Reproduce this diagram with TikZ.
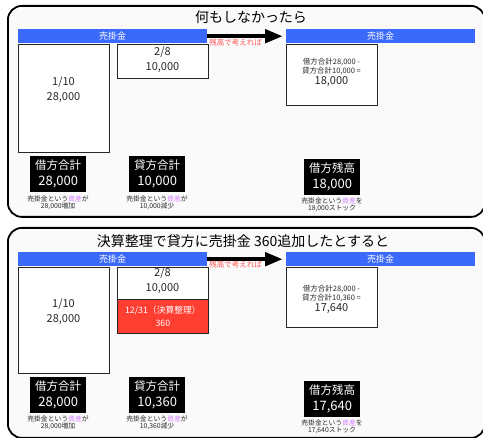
\documentclass[tikz,border=0pt]{standalone}
\usepackage{fontspec}
\setmainfont{Noto Sans CJK JP}
\usetikzlibrary{arrows.meta}
\definecolor{panelbg}{RGB}{250,250,250}
\definecolor{barblue}{RGB}{59,105,250}
\definecolor{boxred}{RGB}{255,62,50}
\definecolor{assetpink}{RGB}{215,130,255}
\definecolor{arrowred}{RGB}{255,85,85}
\definecolor{txtgray}{RGB}{40,40,40}
\newcommand\myfs[2]{\fontsize{#1}{#2}\selectfont}
\newcommand\shisan{\textcolor{assetpink}{資産}}
\begin{document}
\begin{tikzpicture}[x=1pt,y=-1pt,
  panel/.style={draw, line width=1.8pt, rounded corners=14pt, fill=panelbg, inner sep=0pt, anchor=north west, minimum width=477pt},
  ttl/.style={font=\myfs{14}{16}, inner sep=0pt},
  bar/.style={fill=barblue, text=white, inner sep=0pt, anchor=north west, minimum width=189pt, minimum height=14pt, font=\myfs{9}{10}},
  acct/.style={draw=black!85, line width=0.8pt, fill=white, inner sep=0pt, anchor=north west, minimum width=91pt},
  redacct/.style={acct, fill=boxred, text=white, align=center, font=\myfs{8.8}{13}},
  val/.style={align=center, inner sep=0pt, text=txtgray, font=\myfs{11}{15}},
  calc/.style={align=center, inner sep=0pt, text=txtgray, font=\myfs{7.5}{9.5}},
  blk/.style={fill=black, text=white, inner sep=0pt, anchor=north west, minimum width=56pt, minimum height=36pt, align=center, font=\myfs{11.5}{16}},
  note/.style={align=center, inner sep=0pt, text=txtgray, font=\myfs{6.8}{7.4}},
  arr/.style={line width=4.5pt, -{Triangle[length=18pt,width=13pt]}, shorten >=3pt},
  arrlbl/.style={inner sep=0pt, text=arrowred, font=\myfs{7.5}{8}}
]
\useasboundingbox (0,0) rectangle (483,438);

% ---------- panel 1 ----------
\node[panel, minimum height=211pt] (p1) at (7,5) {};
\node[ttl] (t1) at (251,17) {何もしなかったら};

\node[acct, minimum height=108pt] (d1) at (18,44) {};
\node[val] (d1t) at (63.5,89.5) {1/10\\28,000};
\node[acct, minimum height=34pt] (c1) at (117,44) {};
\node[val] (c1t) at (162.5,59.5) {2/8\\10,000};
\node[acct, minimum height=61pt] (r1) at (286,44) {};
\node[calc] (r1t) at (331.5,72) {借方合計28,000 -\\貸方合計10,000 =\\[1pt]\myfs{11}{11}18,000};

\node[bar] (bl1) at (18,29) {売掛金};
\node[bar] (br1) at (286,29) {売掛金};
\draw[arr] (bl1.east) -- (br1.west);
\node[arrlbl] (al1) at (235.5,42.5) {残高で考えれば};

\node[blk] (k1) at (30,156) {借方合計\\\myfs{13}{16}28,000};
\node[blk] (k2) at (129,156) {貸方合計\\\myfs{13}{16}10,000};
\node[blk] (k3) at (304,159) {借方残高\\\myfs{13}{16}18,000};
\node[note] (n1) at (58,202.5) {売掛金という\shisan が\\28,000増加};
\node[note] (n2) at (157,202.5) {売掛金という\shisan が\\10,000減少};
\node[note] (n3) at (332,205) {売掛金という\shisan を\\18,000ストック};

% ---------- panel 2 ----------
\node[panel, minimum height=210pt] (p2) at (7,227) {};
\node[ttl] (t2) at (243,241) {決算整理で貸方に売掛金 360追加したとすると};

\node[acct, minimum height=106pt] (d2) at (18,267) {};
\node[val] (d2t) at (63.5,311.5) {1/10\\28,000};
\node[acct, minimum height=32pt] (c2) at (117,267) {};
\node[val] (c2t) at (162.5,281) {2/8\\10,000};
\node[redacct, minimum height=34pt] (e2) at (117,299) {12/31（決算整理）\\360};
\node[acct, minimum height=60pt] (r2) at (286,267) {};
\node[calc] (r2t) at (331.5,299) {借方合計28,000 -\\貸方合計10,360 =\\[1pt]\myfs{11}{11}17,640};

\node[bar] (bl2) at (18,252) {売掛金};
\node[bar] (br2) at (286,252) {売掛金};
\draw[arr] (bl2.east) -- (br2.west);
\node[arrlbl] (al2) at (235.5,264.5) {残高で考えれば};

\node[blk] (k4) at (30,377) {借方合計\\\myfs{13}{16}28,000};
\node[blk] (k5) at (129,377) {貸方合計\\\myfs{13}{16}10,360};
\node[blk] (k6) at (304,381) {借方残高\\\myfs{13}{16}17,640};
\node[note] (n4) at (58,422.5) {売掛金という\shisan が\\28,000増加};
\node[note] (n5) at (157,422.5) {売掛金という\shisan が\\10,360減少};
\node[note] (n6) at (332,426.5) {売掛金という\shisan を\\17,640ストック};
\end{tikzpicture}
\end{document}
